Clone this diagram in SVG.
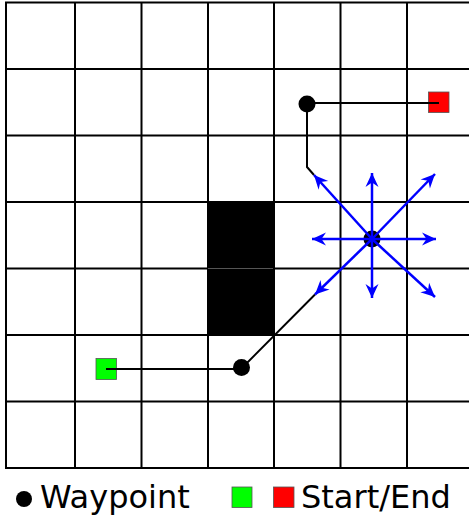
<svg xmlns="http://www.w3.org/2000/svg" width="469" height="519" viewBox="0 0 469 519">
<defs>
<style>
.grid line{stroke:#000;stroke-width:2}
.path{fill:none;stroke:#000;stroke-width:2}
.arr{stroke:#0000ff;stroke-width:2.5;marker-end:url(#ah)}
.lbl{font-family:"DejaVu Sans",sans-serif;font-size:32px;fill:#000}
</style>
<marker id="ah" viewBox="-16 -8 18 16" markerUnits="userSpaceOnUse" markerWidth="18" markerHeight="16" refX="0" refY="0" orient="auto">
<path d="M0,0 L-14,-6.5 L-9.5,0 L-14,6.5 Z" fill="#0000ff"/>
</marker>
</defs>
<rect width="469" height="519" fill="#fff"/>
<g id="grid" class="grid">
<line x1="6" y1="2.5" x2="6" y2="468"/>
<line x1="75" y1="2.5" x2="75" y2="468"/>
<line x1="141.5" y1="2.5" x2="141.5" y2="468"/>
<line x1="208" y1="2.5" x2="208" y2="468"/>
<line x1="274" y1="2.5" x2="274" y2="468"/>
<line x1="340.5" y1="2.5" x2="340.5" y2="468"/>
<line x1="407" y1="2.5" x2="407" y2="468"/>
<line x1="5" y1="2.5" x2="469" y2="2.5"/>
<line x1="5" y1="69" x2="469" y2="69"/>
<line x1="5" y1="135.5" x2="469" y2="135.5"/>
<line x1="5" y1="202" x2="469" y2="202"/>
<line x1="5" y1="268.5" x2="469" y2="268.5"/>
<line x1="5" y1="335" x2="469" y2="335"/>
<line x1="5" y1="401.5" x2="469" y2="401.5"/>
<line x1="5" y1="468" x2="469" y2="468"/>
</g>
<g id="obstacle">
<rect x="207" y="202" width="67" height="133" fill="#000"/>
<line x1="208" y1="268.5" x2="273" y2="268.5" stroke="#555" stroke-width="1"/>
</g>
<g id="connectors">
<polyline class="path" points="438,103 307,103 307,167 314,175"/>
<polyline class="path" points="106,369 241,369 315,294.5"/>
</g>
<g id="start">
<rect x="96" y="358.5" width="20.5" height="21" fill="#00ff00" stroke="#555" stroke-width="0.8"/>
<line x1="106" y1="369" x2="117" y2="369" stroke="#000" stroke-width="2"/>
</g>
<g id="end">
<rect x="428.5" y="92" width="20.5" height="20.5" fill="#ff0000" stroke="#555" stroke-width="0.8"/>
<line x1="428" y1="103" x2="439" y2="103" stroke="#000" stroke-width="2"/>
</g>
<g id="waypoint1"><circle cx="307" cy="104" r="8.5" fill="#000"/></g>
<g id="waypoint2"><circle cx="241.5" cy="367.5" r="8.5" fill="#000"/></g>
<g id="current"><circle cx="372" cy="239" r="8.5" fill="#000"/></g>
<g id="arrows">
<line class="arr" x1="372" y1="239" x2="372" y2="173"/>
<line class="arr" x1="372" y1="239" x2="372" y2="298"/>
<line class="arr" x1="372" y1="239" x2="312" y2="239"/>
<line class="arr" x1="372" y1="239" x2="436" y2="239"/>
<line class="arr" x1="372" y1="239" x2="314" y2="175"/>
<line class="arr" x1="372" y1="239" x2="435" y2="174"/>
<line class="arr" x1="372" y1="239" x2="435" y2="297"/>
<line class="arr" x1="372" y1="239" x2="315" y2="294.5"/>
</g>
<g id="legend">
<circle cx="24" cy="499" r="8" fill="#000"/>
<text class="lbl" x="40" y="508">Waypoint</text>
<rect x="232" y="487" width="20" height="20.5" fill="#00ff00" stroke="#555" stroke-width="0.8"/>
<rect x="273.5" y="487" width="20.5" height="20.5" fill="#ff0000" stroke="#555" stroke-width="0.8"/>
<text class="lbl" x="301" y="508">Start/End</text>
</g>
</svg>
